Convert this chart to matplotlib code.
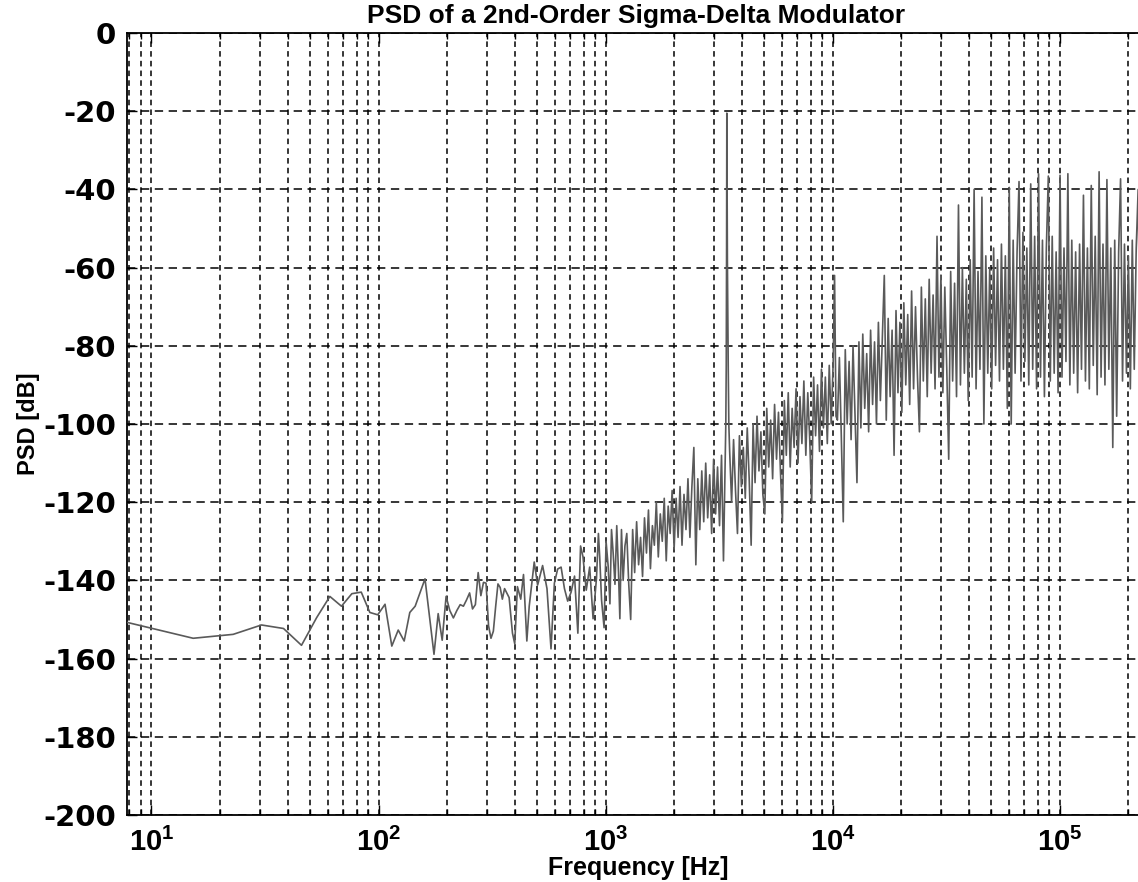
import matplotlib
matplotlib.use('Agg')
import matplotlib.pyplot as plt
import numpy as np
from matplotlib.ticker import LogLocator, FixedLocator, NullFormatter

# ---------------- data ----------------
freq_low = [7.63, 15.26, 22.89, 30.52, 38.15, 45.78, 53.41, 61.04, 68.66, 76.29,
            83.92, 91.55, 99.18, 106.8, 114.4, 122.1, 129.7, 137.3, 145.0, 152.6,
            160.2, 167.8, 175.5, 183.1, 190.7, 198.4, 206.0, 213.6, 221.3, 228.9,
            236.5, 244.1, 251.8, 259.4, 267.0, 274.7, 282.3, 289.9, 297.5, 305.2,
            312.8, 320.4, 328.1, 335.7, 343.3, 351.0, 359.0, 376.0, 389.0, 398.0,
            409.0, 423.0, 435.0, 450.0, 461.0, 485.0, 502.0, 528.0, 552.0, 575.0,
            595.0, 615.0, 637.0, 659.0, 681.0, 705.0, 730.0, 755.0, 776.0, 795.0,
            822.0, 851.0, 881.0, 912.0, 930.0, 942.0, 960.0, 985.0, 1005.0, 1026.0,
            1045.0, 1062.0, 1080.0, 1100.0, 1120.0, 1140.0, 1156.0, 1175.0, 1195.0, 1217.0]
psd_low = [-150.6, -154.8, -153.8, -151.4, -152.3, -156.6, -149.5, -144.1, -146.6, -143.4,
           -143.0, -148.2, -148.8, -146.1, -156.8, -152.7, -155.5, -148.2, -146.6, -143.0,
           -139.6, -149.4, -158.9, -148.5, -155.3, -144.1, -147.7, -149.6, -147.7, -146.2,
           -146.6, -145.0, -143.2, -147.3, -146.2, -138.0, -143.9, -140.5, -140.7, -151.6,
           -154.8, -153.0, -146.6, -140.9, -141.8, -144.8, -142.1, -144.4, -153.5, -156.2,
           -141.6, -144.8, -138.5, -155.5, -146.6, -135.3, -141.2, -136.2, -142.1, -157.5,
           -140.7, -137.1, -136.6, -142.1, -145.3, -143.0, -138.9, -153.5, -131.2, -133.9,
           -142.5, -136.6, -149.8, -139.4, -128.0, -133.9, -145.0, -152.1, -130.0, -136.2,
           -146.0, -127.0, -133.0, -141.0, -126.0, -138.0, -149.8, -127.0, -140.0, -131.2]

freq_inband = [1240, 1265, 1290, 1316, 1343, 1370, 1398, 1426, 1455, 1484,
               1514, 1545, 1576, 1608, 1640, 1673, 1707, 1742, 1777, 1813,
               1850, 1887, 1925, 1964, 2004, 2045, 2086, 2128, 2171, 2215,
               2260, 2306, 2352, 2400, 2448, 2498, 2548, 2600, 2653, 2706,
               2761, 2817, 2874, 2932, 2991, 3052, 3113, 3176, 3241, 3306, 3360]
psd_inband = [-128, -141, -150, -127, -138, -125, -136, -129, -139, -124,
              -133, -122, -137, -126, -131, -120, -134, -123, -130, -119,
              -135, -121, -128, -117, -132, -119, -129, -116, -131, -118,
              -127, -114, -129, -116, -106, -136, -114, -127, -112, -125,
              -110, -124, -113, -128, -109, -123, -111, -126, -108, -135, -112]

freq_tone = [3385, 3400, 3412, 3420, 3428, 3440, 3455, 3470, 3490]
psd_tone = [-100, -85, -55, -20.5, -38, -58, -72, -86, -100]

freq_mid = [3520, 3590, 3662, 3735, 3810, 3886, 3964, 4043, 4124, 4207,
            4291, 4377, 4464, 4554, 4645, 4738, 4832, 4929, 5028, 5128,
            5231, 5335, 5442, 5551, 5662, 5775, 5891, 6009, 6129, 6252,
            6377, 6504, 6634, 6767, 6902, 7040, 7181, 7325, 7471, 7621,
            7773, 7929, 8087, 8249, 8414, 8582, 8754, 8929, 9108, 9290,
            9476, 9665, 9858, 10060, 10200, 10350]
psd_mid = [-107, -120, -104, -117, -128, -103, -116, -106, -119, -101,
           -114, -131, -100, -115, -98, -112, -102, -118, -123, -96,
           -111, -99, -114, -95, -109, -97, -112, -125, -94, -108,
           -92, -111, -96, -106, -91, -110, -93, -105, -89, -108,
           -92, -104, -120, -88, -103, -90, -107, -86, -101, -88,
           -105, -85, -100, -84, -62, -98]

freq_high = [10500, 10710, 10920, 11140, 11370, 11590, 11820, 12060, 12300, 12550,
             12800, 13060, 13320, 13580, 13850, 14130, 14410, 14700, 15000, 15300,
             15600, 15910, 16230, 16560, 16890, 17230, 17570, 17920, 18280, 18650,
             19020, 19400, 19790, 20180, 20590, 21000, 21420, 21850, 22280, 22730,
             23180, 23650, 24120, 24600, 25090, 25600, 26110, 26630, 27160, 27710,
             28260, 28830, 29400, 29990, 30590, 31200, 31830, 32460, 33110, 33780,
             34450, 35140, 35840, 36560, 37290, 38040, 38800, 39570, 40360, 41170,
             42000, 42840, 43690, 44560, 45460, 46370, 47290, 48240, 49210, 50190,
             51190, 52220, 53260, 54330, 55410, 56520, 57650, 58810, 59980, 61180,
             62410, 63650, 64930, 66230, 67550, 68900, 70280, 71690, 73120, 74580,
             76080, 77600, 79150, 80740, 82350, 84000, 85680, 87390, 89140, 90920,
             92740, 94590, 96490, 98420, 100400]
psd_high = [-99, -83, -103, -125, -81, -100, -84, -104, -80, -98,
            -115, -79, -101, -77, -96, -82, -102, -76, -95, -79,
            -100, -74, -94, -78, -62, -99, -73, -93, -76, -108,
            -71, -92, -74, -97, -69, -90, -72, -95, -66, -91,
            -70, -88, -102, -65, -89, -68, -93, -63, -87, -67,
            -91, -52, -88, -62, -92, -65, -86, -109, -61, -89,
            -64, -93, -44, -90, -60, -87, -63, -94, -58, -88,
            -40, -91, -61, -86, -42, -100, -57, -87, -60, -91,
            -55, -85, -58, -89, -54, -86, -57, -96, -39.5, -100,
            -53, -87, -56, -38, -89, -51, -84, -55, -90, -38.6,
            -86, -52, -91, -36, -88, -53, -93, -55, -36.6, -89,
            -52, -87, -56, -92, -36.4]

freq_top = [102400, 104500, 106600, 108700, 110900, 113100, 115300, 117600, 120000, 122400,
            124800, 127300, 129900, 132500, 135100, 137800, 140600, 143400, 146300, 149200,
            152200, 155200, 158300, 161500, 164700, 168000, 171400, 174800, 178300, 181900,
            185500, 189200, 193000, 196900, 200800, 204800, 208900, 213100, 217400, 221700,
            226100, 230700, 235300, 240000, 244800, 249600]
psd_top = [-88, -55, -84, -36, -90, -53, -87, -56, -92, -54,
           -86, -41.5, -89, -55, -91, -39, -85, -52, -92.5, -35.5,
           -88, -54, -90, -37.5, -86, -55, -106, -53, -98, -56,
           -37.3, -89, -54, -87, -57, -91, -53, -86, -55, -40,
           -88, -56, -90, -54, -87, -57]

ytick_values = [0, -20, -40, -60, -80, -100, -120, -140, -160, -180, -200]
ytick_labels = ['0', '-20', '-40', '-60', '-80', '-100', '-120', '-140', '-160', '-180', '-200']
xtick_exponents = [1, 2, 3, 4, 5]

title_text = 'PSD of a 2nd-Order Sigma-Delta Modulator'
xlabel_text = 'Frequency [Hz]'
ylabel_text = 'PSD [dB]'

# ---------------- assemble series ----------------
freq = np.array(freq_low + freq_inband + freq_tone + freq_mid + freq_high + freq_top, dtype=float)
psd = np.array(psd_low + psd_inband + psd_tone + psd_mid + psd_high + psd_top, dtype=float)

# ---------------- style ----------------
plt.rcParams['font.family'] = ['Liberation Sans', 'DejaVu Sans']
plt.rcParams['mathtext.fontset'] = 'custom'
plt.rcParams['mathtext.rm'] = 'Liberation Sans:bold'
plt.rcParams['mathtext.bf'] = 'Liberation Sans:bold'
plt.rcParams['mathtext.it'] = 'Liberation Sans:bold:italic'
plt.rcParams['lines.scale_dashes'] = False
plt.rcParams['axes.unicode_minus'] = False

W, H = 1138, 882
fig = plt.figure(figsize=(W / 100, H / 100), dpi=100)
ax_left, ax_right = 127, 1150
ax_top, ax_bottom = 33, 815
ax = fig.add_axes([ax_left / W, 1 - ax_bottom / H, (ax_right - ax_left) / W, (ax_bottom - ax_top) / H])

ax.plot(freq, psd, color='#5a5a5a', lw=1.2, zorder=3)
ax.set_xscale('log')
ax.set_xlim(7.8, 2.5e5)
ax.set_ylim(-200, 0)

ax.set_yticks(ytick_values)
ax.set_yticklabels(ytick_labels)
xt = [10.0 ** e for e in xtick_exponents]
ax.xaxis.set_major_locator(FixedLocator(xt))
ax.set_xticklabels([r'$\mathbf{10^{%d}}$' % e for e in xtick_exponents])
ax.xaxis.set_minor_locator(LogLocator(base=10, subs=np.arange(2, 10)))
ax.xaxis.set_minor_formatter(NullFormatter())

for lbl in ax.get_yticklabels():
    lbl.set_fontfamily('DejaVu Sans')
    lbl.set_fontweight('bold')
    lbl.set_fontsize(21)
for lbl in ax.get_xticklabels():
    lbl.set_fontsize(21)

ax.tick_params(which='both', direction='in', top=True, right=True, width=1.0, colors='k')
ax.tick_params(which='major', length=7)
ax.tick_params(which='minor', length=4)
ax.tick_params(axis='y', which='major', pad=8)
ax.tick_params(axis='x', which='major', pad=9)

ax.grid(True, which='both', axis='x', color='k', lw=1.1, ls=(0, (4, 3)))
ax.grid(True, which='major', axis='y', color='k', lw=1.1, ls=(0, (6, 4)))
ax.set_axisbelow(True)

for sp in ax.spines.values():
    sp.set_linewidth(1.3)
    sp.set_color('k')

fig.text(636 / W, 1 - 16 / H, title_text, ha='center', va='center', fontsize=19, fontweight='bold')
ax.set_xlabel(xlabel_text, fontsize=18, fontweight='bold')
ax.xaxis.set_label_coords(0.5, -(856 - ax_bottom) / (ax_bottom - ax_top))
ax.set_ylabel(ylabel_text, fontsize=17, fontweight='bold')
ax.yaxis.set_label_coords(-(127 - 40) / (ax_right - ax_left), 0.5)

fig.savefig('out.png', dpi=100)
